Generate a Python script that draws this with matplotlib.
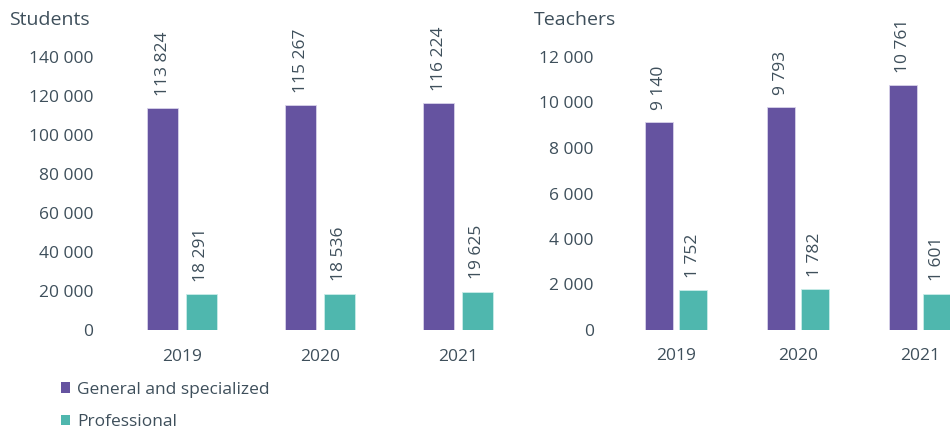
import matplotlib
matplotlib.use('Agg')
import matplotlib.pyplot as plt
import matplotlib.ticker as tck
from matplotlib.patches import Patch

plt.rcParams['font.family'] = ['Open Sans', 'DejaVu Sans']

# data
years = ['2019', '2020', '2021']
students_general = [113824, 115267, 116224]
students_prof = [18291, 18536, 19625]
teachers_general = [9140, 9793, 10761]
teachers_prof = [1752, 1782, 1601]

purple = '#6553A0'
teal = '#4FB7AE'
txt = '#3E4F5B'
fs = 12.5

def space_fmt(v, pos=None):
    return f'{int(v):,}'.replace(',', ' ')

fig = plt.figure(figsize=(9.5, 4.29), dpi=100)
W, H = 950, 429

def make_ax(left_px, right_px, xlim, ymax, step, gen, prof, off, width, title, title_x, pad_y, pad_x, zero_black):
    ax = fig.add_axes([left_px / W, 1 - 330 / H, (right_px - left_px) / W, (330 - 57) / H])
    x = range(len(years))
    b1 = ax.bar([i - off for i in x], gen, width, color=purple, edgecolor='#D8D2EA', linewidth=0.6)
    b2 = ax.bar([i + off for i in x], prof, width, color=teal, edgecolor='#C9ECE8', linewidth=0.6)
    for bars in (b1, b2):
        for r in bars:
            ax.annotate(space_fmt(r.get_height()), (r.get_x() + r.get_width() / 2, r.get_height()),
                        xytext=(0, 9), textcoords='offset points', rotation=90,
                        ha='center', va='bottom', fontsize=fs, color=txt, annotation_clip=False)
    ax.set_xlim(*xlim)
    ax.set_ylim(0, ymax)
    ax.yaxis.set_major_locator(tck.MultipleLocator(step))
    ax.yaxis.set_major_formatter(tck.FuncFormatter(space_fmt))
    ax.set_xticks(list(x))
    ax.set_xticklabels(years)
    ax.tick_params(axis='both', length=0, labelsize=fs, colors=txt)
    ax.tick_params(axis='y', pad=pad_y)
    ax.tick_params(axis='x', pad=pad_x)
    if zero_black:
        ax.get_yticklabels()[0].set_color('black')
    for s in ax.spines.values():
        s.set_visible(False)
    fig.text(title_x / W, 1 - 20 / H, title, fontsize=14, color=txt, ha='left', va='center')
    return ax

ax1 = make_ax(100, 510, (-0.594, 2.377), 140000, 20000, students_general, students_prof,
              0.141, 0.225, 'Students', 9, 5, 14, True)
ax2 = make_ax(605, 950, (-0.582, 2.246), 12000, 2000, teachers_general, teachers_prof,
              0.143, 0.23, 'Teachers', 534, 8, 13, False)

handles = [Patch(facecolor=purple), Patch(facecolor=teal)]
leg = fig.legend(handles, ['General and specialized', 'Professional'], loc='upper left',
                 bbox_to_anchor=(45 / W, 1 - 366 / H), frameon=False, fontsize=fs,
                 handlelength=0.55, handleheight=0.55, handletextpad=0.4, labelspacing=0.95)
for t in leg.get_texts():
    t.set_color(txt)

fig.savefig('out.png', dpi=100)
